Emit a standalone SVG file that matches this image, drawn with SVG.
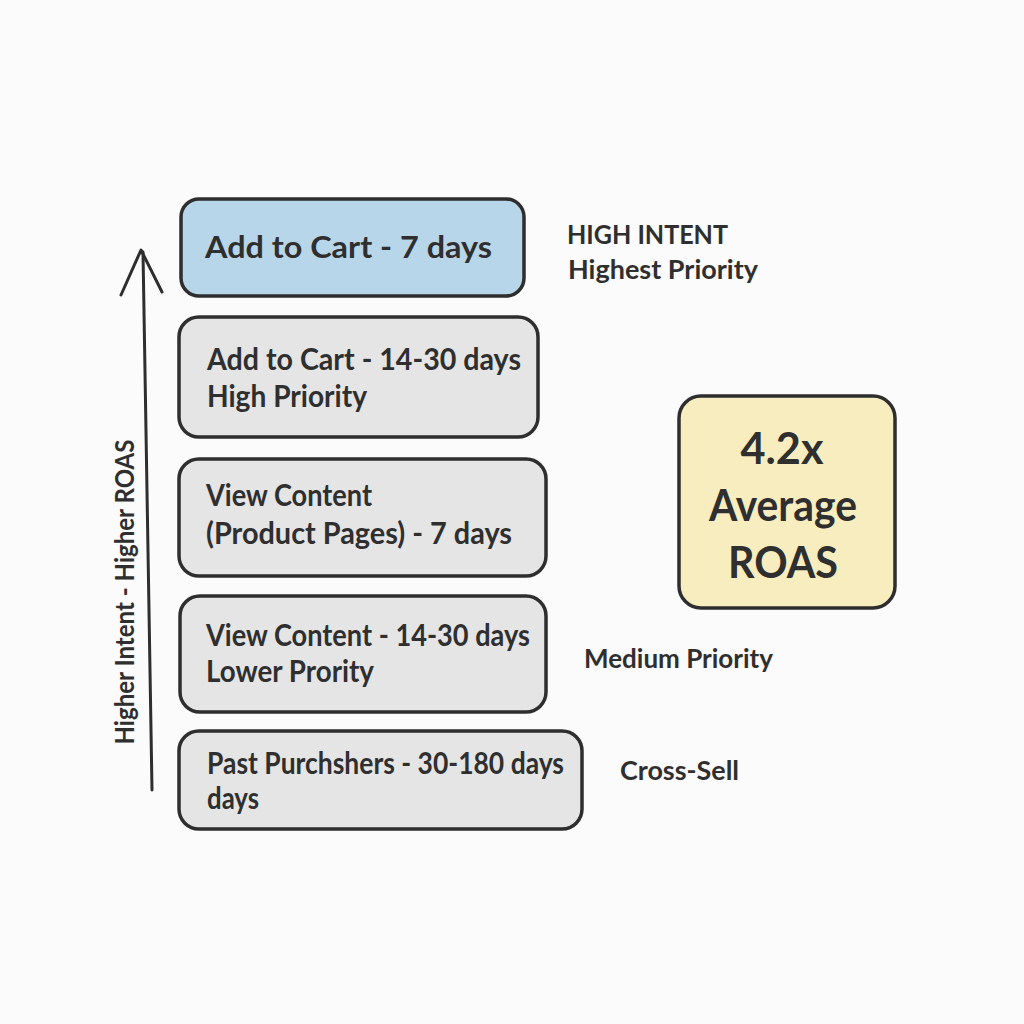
<svg xmlns="http://www.w3.org/2000/svg" width="1024" height="1024" viewBox="0 0 1024 1024">
<style>
.box{stroke:#2e2e2e;stroke-width:3.5;stroke-linejoin:round}
.gray{fill:#e5e5e5}
.blue{fill:#b8d6e9}
.yellow{fill:#f8edbf}
.t{font-family:Lato,"Open Sans",sans-serif;font-weight:700;fill:#2f2f2f;font-size:30px}
.side{font-family:Lato,"Open Sans",sans-serif;font-weight:700;fill:#2f2f2f;font-size:26px}
.big{font-family:Lato,"Open Sans",sans-serif;font-weight:700;fill:#2f2f2f;font-size:44px;text-anchor:middle}
.ln{stroke:#2e2e2e;stroke-width:3;fill:none;stroke-linecap:round;stroke-linejoin:round}
</style>
<rect width="1024" height="1024" fill="#fbfbfb"/>
<g id="connectors">
<path class="ln" d="M152 790 L143 252"/>
<path class="ln" d="M121 295 L141 250 L162 292"/>
</g>
<g id="axis-label">
<text class="side" transform="translate(134,592) rotate(-90)" text-anchor="middle" font-size="23" textLength="305" lengthAdjust="spacingAndGlyphs">Higher Intent - Higher ROAS</text>
</g>
<g id="n1">
<rect class="box blue" x="181" y="199" width="343" height="97" rx="18"/>
<text class="t" x="205" y="258" textLength="287" lengthAdjust="spacingAndGlyphs">Add to Cart - 7 days</text>
</g>
<g id="n2">
<rect class="box gray" x="179" y="317" width="359" height="120" rx="20"/>
<text class="t" x="207" y="370" textLength="314" lengthAdjust="spacingAndGlyphs">Add to Cart - 14-30 days</text>
<text class="t" x="207" y="407" textLength="160" lengthAdjust="spacingAndGlyphs">High Priority</text>
</g>
<g id="n3">
<rect class="box gray" x="179" y="459" width="367" height="117" rx="20"/>
<text class="t" x="206" y="506" textLength="166" lengthAdjust="spacingAndGlyphs">View Content</text>
<text class="t" x="206" y="544" textLength="306" lengthAdjust="spacingAndGlyphs">(Product Pages) - 7 days</text>
</g>
<g id="n4">
<rect class="box gray" x="180" y="596" width="366" height="116" rx="20"/>
<text class="t" x="206" y="646" textLength="324" lengthAdjust="spacingAndGlyphs">View Content - 14-30 days</text>
<text class="t" x="206" y="682" textLength="168" lengthAdjust="spacingAndGlyphs">Lower Prority</text>
</g>
<g id="n5">
<rect class="box gray" x="179" y="731" width="403" height="98" rx="20"/>
<text class="t" x="207" y="774" textLength="357" lengthAdjust="spacingAndGlyphs">Past Purchshers - 30-180 days</text>
<text class="t" x="207" y="809" textLength="52" lengthAdjust="spacingAndGlyphs">days</text>
</g>
<g id="roas">
<rect class="box yellow" x="679" y="396" width="216" height="212" rx="22"/>
<text class="big" x="782" y="464" textLength="83" lengthAdjust="spacingAndGlyphs">4.2x</text>
<text class="big" x="783" y="521" textLength="148" lengthAdjust="spacingAndGlyphs">Average</text>
<text class="big" x="783" y="578" textLength="110" lengthAdjust="spacingAndGlyphs">ROAS</text>
</g>
<g id="labels">
<text class="side" x="567" y="244" textLength="161" lengthAdjust="spacingAndGlyphs">HIGH INTENT</text>
<text class="side" x="568" y="279" textLength="190" lengthAdjust="spacingAndGlyphs">Highest Priority</text>
<text class="side" x="584" y="668" textLength="189" lengthAdjust="spacingAndGlyphs">Medium Priority</text>
<text class="side" x="620" y="780" textLength="119" lengthAdjust="spacingAndGlyphs">Cross-Sell</text>
</g>
</svg>
